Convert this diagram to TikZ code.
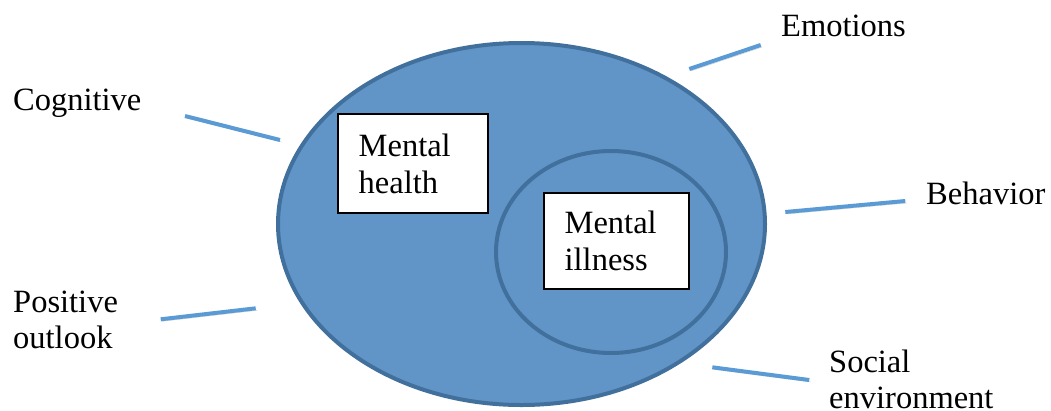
\documentclass[tikz,border=0pt]{standalone}
\usepackage{fontspec}
\setmainfont{Liberation Serif}
\usetikzlibrary{shapes.geometric}
\definecolor{fillblue}{RGB}{97,149,200}
\definecolor{edgeblue}{RGB}{66,112,156}
\definecolor{lineblue}{RGB}{91,155,213}
\begin{document}
\begin{tikzpicture}[x=1pt,y=-1pt,
  txt/.style={font=\fontsize{32.5}{36.7}\selectfont, inner sep=0pt, align=left, anchor=base west},
  ring/.style={ellipse, draw=edgeblue, fill=fillblue, line width=4pt, inner sep=0pt},
  labelbox/.style={rectangle, draw=black, fill=white, line width=1.8pt, font=\fontsize{32.5}{36.7}\selectfont, align=left, inner xsep=21pt, inner ysep=0pt},
  conn/.style={line width=4pt, draw=lineblue, preaction={draw=black, opacity=0.22, transform canvas={shift={(1.5pt,-2pt)}}}}]
\useasboundingbox (0,0) rectangle (1051,410);
\node[ring, minimum width=487pt, minimum height=362pt] (outer) at (521.5,224) {};
\node[ring, minimum width=230pt, minimum height=202pt] (inner) at (611,252) {};
\node[labelbox, text width=108pt, minimum height=99pt] (health) at (412.7,163.8) {Mental\\health};
\node[labelbox, text width=103.3pt, minimum height=95.7pt] (illness) at (616.3,241.2) {Mental\\illness};
\node[txt] (cog) at (13,110) {Cognitive};
\node[txt] (pos) at (13,348.7) {Positive\\outlook};
\node[txt] (emo) at (781,36) {Emotions};
\node[txt] (beh) at (926,204) {Behavior};
\node[txt] (soc) at (829,408.7) {Social\\environment};
\coordinate (cogA) at (185,116);  \coordinate (cogB) at (280,140);
\coordinate (posA) at (160.7,319.3); \coordinate (posB) at (255.7,308.3);
\coordinate (emoA) at (689.3,69); \coordinate (emoB) at (760.7,45);
\coordinate (behA) at (785.3,212); \coordinate (behB) at (905.3,201);
\coordinate (socA) at (712.3,367.3); \coordinate (socB) at (809.3,380);
\draw[conn] (cogA) -- (cogB);
\draw[conn] (posA) -- (posB);
\draw[conn] (emoA) -- (emoB);
\draw[conn] (behA) -- (behB);
\draw[conn] (socA) -- (socB);
\end{tikzpicture}
\end{document}
